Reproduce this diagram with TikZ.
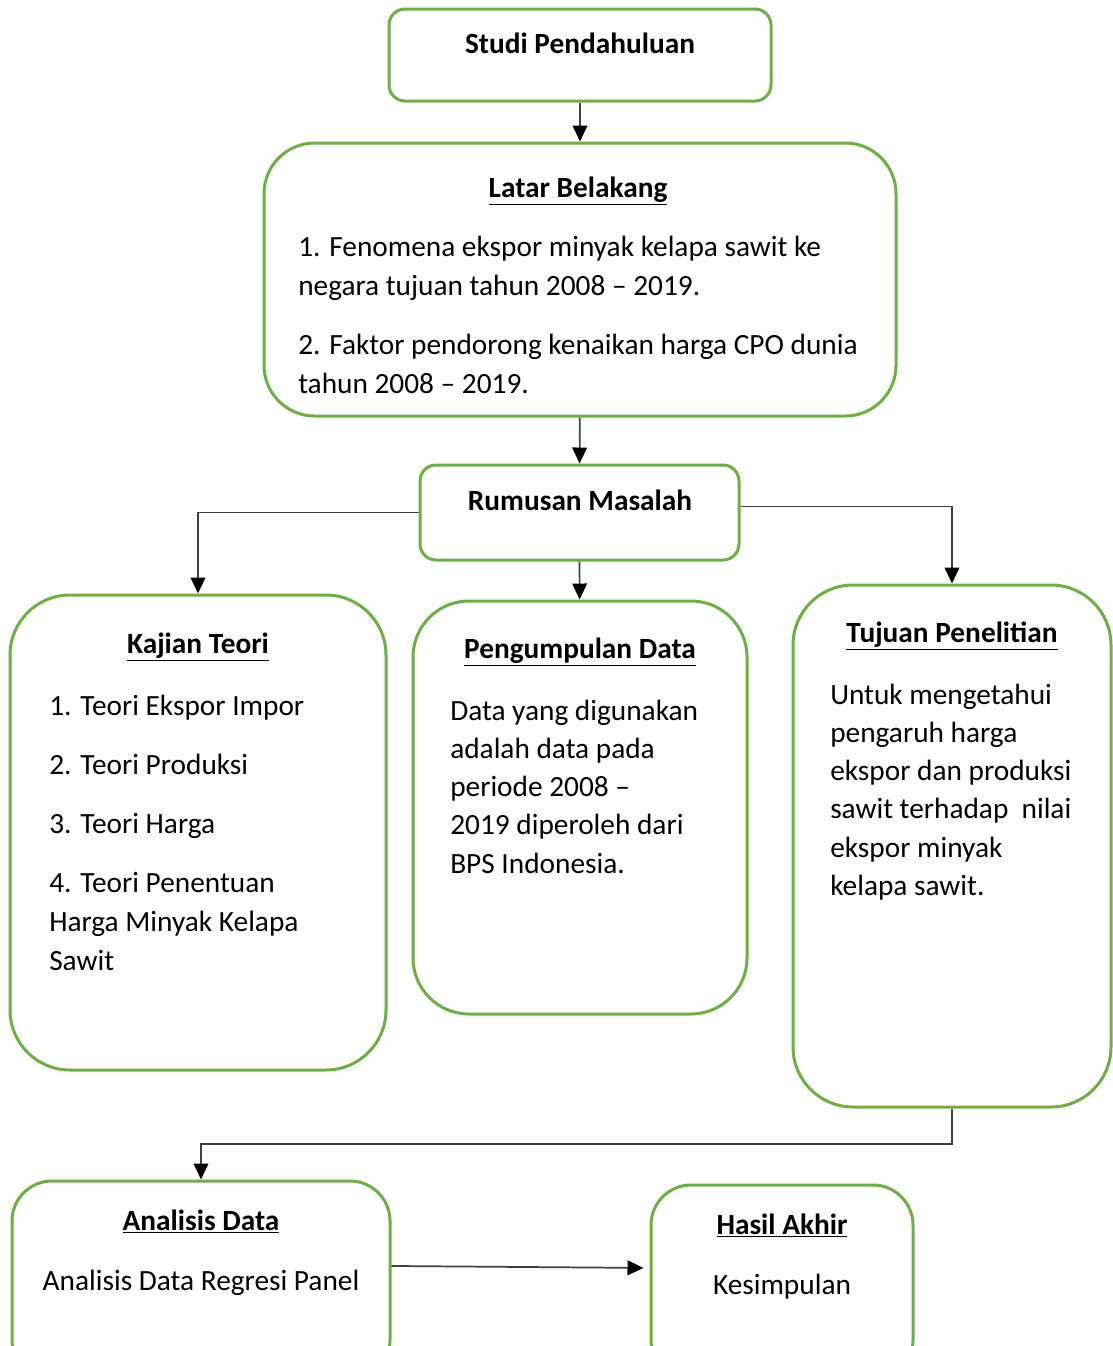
\documentclass[tikz,border=0pt]{standalone}
\usepackage{fontspec}
\setmainfont{Carlito}
\usetikzlibrary{arrows.meta}
\definecolor{hijau}{HTML}{70AD47}
\definecolor{garis}{HTML}{404040}
\begin{document}
\fontsize{22}{29.25}\selectfont
\begin{tikzpicture}[x=0.75pt, y=-0.75pt,
    kotak/.style={draw=hijau, line width=2.25pt, inner sep=0pt},
    judul/.style={anchor=base, inner sep=0pt, font=\bfseries},
    isi/.style={anchor=north west, inner sep=0pt, align=left, execute at begin node=\strut},
    rapat/.style={font=\fontsize{22}{28.7}\selectfont},
    panah/.style={draw=garis, line width=1.3pt, -{Triangle[length=12pt,width=11pt,color=black]}}]
\useasboundingbox (0,0) rectangle (1113,1346);
% kotak-kotak
\node(studi) [kotak, rounded corners=12pt, minimum width=286.5pt, minimum height=69pt] at (580,55) {};
\node(latar) [kotak, rounded corners=38pt, minimum width=474pt, minimum height=204.75pt] at (580,279.5) {};
\node(rumusan) [kotak, rounded corners=12pt, minimum width=239.25pt, minimum height=71.25pt] at (579.5,512.5) {};
\node(kajian) [kotak, rounded corners=45pt, minimum width=282pt, minimum height=356.25pt] at (198,832.5) {};
\node(data) [kotak, rounded corners=42pt, minimum width=250.5pt, minimum height=309.75pt] at (580,807.5) {};
\node(tujuan) [kotak, rounded corners=45pt, minimum width=238.5pt, minimum height=391.5pt] at (952,846) {};
\node(analisis) [kotak, rounded corners=30pt, minimum width=283.5pt, minimum height=149.25pt] at (201,1280.5) {};
\node(hasil) [kotak, rounded corners=30pt, minimum width=196.5pt, minimum height=146.25pt] at (782,1282.5) {};
% judul
\node(studiT) [judul] at (580,53) {Studi Pendahuluan};
\node(latarT) [judul] at (578,197) {\underline{Latar Belakang}};
\node(rumusanT) [judul] at (580,510) {Rumusan Masalah};
\node(kajianT) [judul] at (198,653) {\underline{Kajian Teori}};
\node(dataT) [judul] at (580,658) {\underline{Pengumpulan Data}};
\node(tujuanT) [judul] at (952,642) {\underline{Tujuan Penelitian}};
\node(analisisT) [judul] at (201,1230) {\underline{Analisis Data}};
\node(hasilT) [judul] at (782,1234) {\underline{Hasil Akhir}};
% isi
\node(latarI) [isi] at (298,235.7) {1. Fenomena ekspor minyak kelapa sawit ke\\
    negara tujuan tahun 2008 -- 2019.\\[15pt]
    2. Faktor pendorong kenaikan harga CPO dunia\\
    tahun 2008 -- 2019.};
\node(kajianI) [isi] at (49,694.7) {1. Teori Ekspor Impor\\[15pt]
    2. Teori Produksi\\[15pt]
    3. Teori Harga\\[15pt]
    4. Teori Penentuan\\
    Harga Minyak Kelapa\\
    Sawit};
\node(dataI) [isi, rapat] at (450,699.5) {Data yang digunakan\\
    adalah data pada\\
    periode 2008 --\\
    2019 diperoleh dari\\
    BPS Indonesia.};
\node(tujuanI) [isi, rapat] at (830,683.5) {Untuk mengetahui\\
    pengaruh harga\\
    ekspor dan produksi\\
    sawit terhadap~ nilai\\
    ekspor minyak\\
    kelapa sawit.};
\node(analisisI) [judul, font=\mdseries] at (201,1290) {Analisis Data Regresi Panel};
\node(hasilI) [judul, font=\mdseries] at (782,1294) {Kesimpulan};
% panah
\coordinate(belok) at (201,1144);
\draw[panah] (studi) -- (latar);
\draw[panah] (latar) -- (rumusan);
\draw[panah] (rumusan.west) -| (kajian.north);
\draw[panah] (rumusan) -- (data);
\draw[panah] ([yshift=4.5pt]rumusan.east) -| (tujuan.north);
\draw[panah] (tujuan.south) |- (belok) -- (analisis.north);
\draw[panah, shorten >=4.5pt] ([yshift=10.9pt]analisis.east) -- ([yshift=10.9pt]hasil.west);
\end{tikzpicture}
\end{document}
